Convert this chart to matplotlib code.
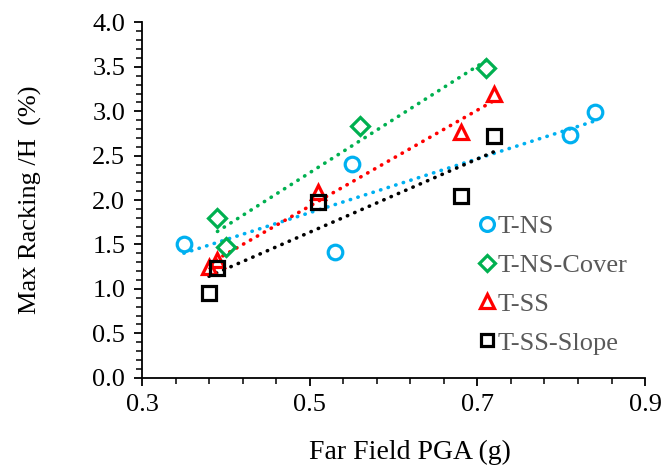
import numpy as np
import matplotlib
matplotlib.use('Agg')
import matplotlib.pyplot as plt
from matplotlib.ticker import FixedLocator, FormatStrFormatter, MultipleLocator

plt.rcParams['font.family'] = ['Liberation Serif', 'DejaVu Serif']

# data
tns_x = [0.35, 0.53, 0.55, 0.81, 0.84]
tns_y = [1.51, 1.41, 2.41, 2.73, 2.99]

cover_x = [0.39, 0.40, 0.56, 0.71]
cover_y = [1.80, 1.47, 2.83, 3.49]

tss_x = [0.38, 0.39, 0.51, 0.68, 0.72]
tss_y = [1.25, 1.32, 2.09, 2.77, 3.20]

slope_x = [0.38, 0.39, 0.51, 0.68, 0.72]
slope_y = [0.95, 1.23, 1.98, 2.05, 2.72]

x_ticks = [0.3, 0.5, 0.7, 0.9]

series = [
    ('T-NS', tns_x, tns_y, 'o', '#00B0F0'),
    ('T-NS-Cover', cover_x, cover_y, 'D', '#00B050'),
    ('T-SS', tss_x, tss_y, '^', '#FF0000'),
    ('T-SS-Slope', slope_x, slope_y, 's', '#000000'),
]

fig = plt.figure(figsize=(6.65, 4.68), dpi=100)
ax = fig.add_axes([0.2135, 0.193, 0.7565, 0.759])

# dotted linear trend lines
for name, x, y, m, c in series:
    x = np.array(x)
    k, b = np.polyfit(x, y, 1)
    xx = np.array([x.min(), x.max()])
    ax.plot(xx, k * xx + b, color=c, lw=2.6, linestyle=(0, (0.1, 2.1)),
            dash_capstyle='round', zorder=2)

sizes = {'o': 10.5, 'D': 9, '^': 10.5, 's': 9.5}
for name, x, y, m, c in series:
    ax.plot(x, y, linestyle='none', marker=m, markersize=sizes[m],
            markerfacecolor='none', markeredgecolor=c, markeredgewidth=2.3,
            label=name, zorder=3)

ax.set_xlim(0.3, 0.9)
ax.set_ylim(0.0, 4.0)
ax.xaxis.set_major_locator(FixedLocator(x_ticks))
ax.xaxis.set_minor_locator(FixedLocator(np.linspace(0.3, 0.9, 16)))
ax.yaxis.set_major_locator(MultipleLocator(0.5))
ax.yaxis.set_minor_locator(MultipleLocator(0.1))
ax.xaxis.set_major_formatter(FormatStrFormatter('%.1f'))
ax.yaxis.set_major_formatter(FormatStrFormatter('%.1f'))

for s in ['top', 'right']:
    ax.spines[s].set_visible(False)
for s in ['left', 'bottom']:
    ax.spines[s].set_linewidth(1.3)

ax.tick_params(which='major', direction='out', length=6, width=1.3,
               labelsize=19, pad=6)
ax.tick_params(which='minor', direction='out', length=4, width=1.1)

ax.set_xlabel('Far Field PGA (g)', fontsize=20, labelpad=17)
ax.xaxis.set_label_coords(0.533, -0.175)
ax.set_ylabel('Max Racking /H  (%)', fontsize=19, labelpad=36)

leg = ax.legend(loc='center left', bbox_to_anchor=(0.644, 0.262), frameon=False,
                fontsize=19, handlelength=0.8, handletextpad=0.0,
                labelspacing=0.58, markerscale=0.95, borderaxespad=0.0)
for t in leg.get_texts():
    t.set_color('#595959')

fig.savefig('out.png', dpi=100)
